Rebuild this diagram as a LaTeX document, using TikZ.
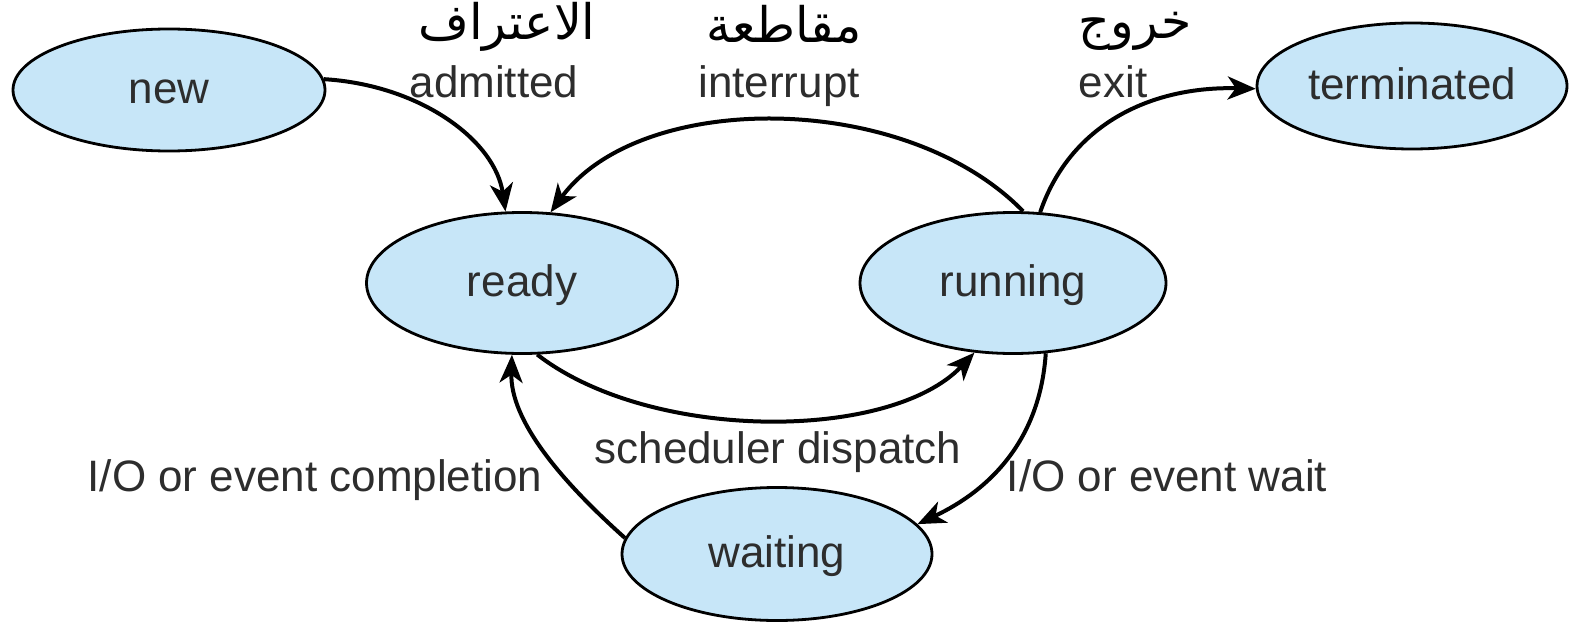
\documentclass[tikz,border=0pt]{standalone}
\usepackage{fontspec}
\setmainfont{Liberation Sans}
\newfontfamily\arabicfont[Script=Arabic]{DejaVu Sans}
\TeXXeTstate=1
\usetikzlibrary{shapes.geometric,arrows.meta}
\definecolor{statefill}{RGB}{199,230,248}
\definecolor{labelgray}{RGB}{45,45,45}
\begin{document}
\begin{tikzpicture}[x=1pt,y=-1pt,
  state/.style={ellipse, draw=black, line width=2.8pt, fill=statefill, inner sep=0pt,
    text=labelgray, font=\fontsize{44}{48}\selectfont, text height=33pt, text depth=7pt},
  lbl/.style={anchor=base, text=labelgray, font=\fontsize{44}{48}\selectfont, inner sep=0pt},
  arlbl/.style={anchor=base, text=black, font=\fontsize{49}{52}\selectfont\arabicfont, inner sep=0pt},
  arr/.style={line width=4pt, -{Stealth[length=28pt,width=23pt,inset=8pt]}}]
\useasboundingbox[fill=white] (0,0) rectangle (1581,626);

% process states
\node[state, minimum width=312pt, minimum height=122pt] (new) at (169,90) {new};
\node[state, minimum width=310pt, minimum height=126pt] (terminated) at (1412,86) {terminated};
\node[state, minimum width=311pt, minimum height=141pt] (ready) at (522,283) {ready};
\node[state, minimum width=306pt, minimum height=141pt] (running) at (1013,283) {running};
\node[state, minimum width=310pt, minimum height=133pt] (waiting) at (777,554) {waiting};

% transition labels
\node[arlbl] (admittedAr) at (507,40) {\beginR الاعتراف\endR};
\node[lbl] (admitted) at (494,97) {admitted};
\node[arlbl] (interruptAr) at (784,42) {\beginR مقاطعة\endR};
\node[lbl] (interrupt) at (779,97) {interrupt};
\node[arlbl] (exitAr) at (1135,38) {\beginR خروج\endR};
\node[lbl] (exit) at (1113,97) {exit};
\node[lbl] (dispatch) at (778,463) {scheduler dispatch};
\node[lbl] (completion) at (315,491) {I/O or event completion};
\node[lbl] (wait) at (1167,491) {I/O or event wait};

% transitions
\draw[arr] (new.4) .. controls (420,85) and (495,140) .. (ready.103);
\draw[arr] (running.82) .. controls (905,90) and (640,90) .. (ready.68);
\draw[arr] (running.69) .. controls (1070,125) and (1150,86) .. (terminated.181);
\draw[arr] (ready.282) .. controls (650,442) and (890,442) .. (running.241);
\draw[arr] (running.295) .. controls (1040,440) and (990,490) .. (waiting.12);
\draw[arr] (waiting.174) .. controls (560,480) and (510,420) .. (ready.262);
\end{tikzpicture}
\end{document}
